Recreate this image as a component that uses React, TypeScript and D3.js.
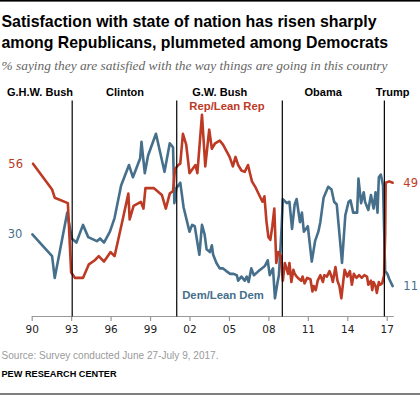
import React, { useEffect, useRef } from 'react';
import * as d3 from 'd3';

// % satisfied, [year, value]
const repSeries: [number, number][] = [
  [1990.1, 56], [1991.55, 46.5], [1991.75, 43.5], [1992.75, 41.5], [1993.0, 16], [1993.3, 14], [1993.9, 14],
  [1994.35, 19], [1994.8, 20.5], [1995.1, 22], [1995.5, 20], [1996.0, 23.5], [1996.3, 22], [1996.9, 35],
  [1997.35, 45], [1997.45, 35.5], [1997.75, 40.5], [1998.3, 42], [1998.5, 39.5], [1998.65, 47], [1999.3, 47],
  [1999.9, 44.5], [2000.2, 39.5], [2000.5, 45], [2000.75, 46], [2000.9, 54], [2001.15, 55.5], [2001.3, 56],
  [2001.5, 67], [2001.75, 63], [2002.0, 52.5], [2002.45, 55.5], [2002.6, 52.5], [2002.95, 74], [2003.2, 55],
  [2003.5, 68.5], [2003.7, 61.5], [2003.95, 63.5], [2004.3, 64.5], [2004.55, 63], [2005.05, 58.5], [2005.3, 55],
  [2005.5, 58.5], [2005.7, 55.5], [2005.95, 53.5], [2006.2, 53], [2006.45, 55.5], [2006.6, 52.5], [2006.75, 49.5],
  [2007.0, 47.5], [2007.3, 44.5], [2007.55, 42], [2007.7, 44], [2007.85, 35], [2008.0, 29], [2008.15, 28],
  [2008.3, 33], [2008.45, 39.5], [2008.6, 19.5], [2008.75, 23.5], [2008.95, 22], [2009.1, 13], [2009.25, 19.5],
  [2009.35, 18], [2009.5, 15.5], [2009.6, 19.5], [2009.75, 12.5], [2009.9, 17], [2010.0, 15.5], [2010.15, 14.5],
  [2010.25, 14], [2010.5, 13], [2010.6, 14.5], [2010.75, 12], [2010.95, 14], [2011.2, 13.5], [2011.35, 9],
  [2011.45, 11], [2011.6, 9.5], [2011.75, 13], [2011.95, 15], [2012.15, 12.5], [2012.25, 15], [2012.45, 14.5],
  [2012.65, 16.5], [2012.8, 14.5], [2012.9, 12.5], [2013.1, 18], [2013.25, 13], [2013.4, 11], [2013.55, 6.5],
  [2013.7, 13], [2013.8, 17], [2014.0, 14.5], [2014.2, 16.5], [2014.35, 11.5], [2014.5, 15.5], [2014.7, 14],
  [2014.9, 15], [2015.1, 14], [2015.3, 15], [2015.5, 14.5], [2015.6, 11.5], [2015.8, 13], [2015.9, 9.5],
  [2016.0, 12.5], [2016.15, 11], [2016.25, 8.5], [2016.4, 12.5], [2016.5, 11.5], [2016.65, 12], [2016.8, 15],
  [2016.88, 30], [2016.92, 49], [2017.2, 49.5], [2017.45, 49],
];

const demSeries: [number, number][] = [
  [1990.05, 30], [1991.55, 22], [1991.75, 14], [1992.7, 38], [1993.05, 28.5], [1993.4, 27], [1993.9, 33.5],
  [1994.3, 29], [1994.95, 27.5], [1995.2, 28.5], [1995.5, 27], [1995.95, 31], [1996.3, 36], [1996.8, 48],
  [1997.4, 55.5], [1997.7, 51], [1998.25, 58], [1998.35, 64], [1998.6, 52.5], [1998.85, 59], [1999.45, 67],
  [2000.1, 53], [2000.5, 63.5], [2000.75, 62], [2000.85, 41.5], [2001.0, 47], [2001.3, 49], [2001.55, 40],
  [2002.0, 31], [2002.2, 33.5], [2002.4, 33], [2002.75, 22.5], [2002.95, 33.5], [2003.15, 30], [2003.3, 24.5],
  [2003.55, 23.5], [2003.7, 26], [2003.8, 22.5], [2004.05, 19.5], [2004.3, 17.5], [2004.55, 17.5], [2004.8, 16.5],
  [2005.1, 15.5], [2005.35, 15.5], [2005.6, 15], [2005.7, 13], [2005.95, 14.5], [2006.2, 13], [2006.35, 14.5],
  [2006.5, 12.5], [2006.7, 17.5], [2006.9, 15], [2007.25, 16.5], [2007.5, 17.5], [2007.75, 18.5], [2007.95, 20.5],
  [2008.1, 15], [2008.35, 17.5], [2008.5, 6.5], [2008.7, 12.5], [2008.8, 15], [2009.0, 32], [2009.1, 43],
  [2009.4, 41.5], [2009.6, 42], [2009.8, 32], [2010.0, 41], [2010.15, 43], [2010.4, 34.5], [2010.55, 38],
  [2010.7, 31], [2011.0, 33], [2011.3, 20], [2011.55, 27.5], [2011.8, 31], [2011.95, 34.5], [2012.2, 43.5],
  [2012.55, 47.5], [2012.8, 46.5], [2013.0, 42], [2013.2, 41], [2013.35, 33], [2013.6, 19.5], [2013.85, 37],
  [2014.1, 42], [2014.25, 42.5], [2014.45, 38], [2014.75, 38], [2014.85, 50.5], [2015.05, 41.5], [2015.25, 45.5],
  [2015.35, 42], [2015.6, 39], [2015.8, 44.5], [2016.0, 39.5], [2016.15, 45.5], [2016.3, 38], [2016.4, 51],
  [2016.55, 52], [2016.72, 48], [2016.88, 16.5], [2017.05, 15.5], [2017.2, 13.5], [2017.45, 11],
];

const presidents = ['G.H.W. Bush', 'Clinton', 'G.W. Bush', 'Obama', 'Trump'];
const presidentLabelYears = [1990.63, 1997.1, 2004.3, 2012.17, 2017.45];
const termStarts = [1993.08, 2001.03, 2009.06, 2016.82];
const tickYears = [1990, 1993, 1996, 1999, 2002, 2005, 2008, 2011, 2014, 2017];

const RED = '#bd3a25';
const BLUE = '#456f8b';
const SANS = '"Liberation Sans", Arial, sans-serif';
const DJV = '"DejaVu Sans", Verdana, sans-serif';

const App = () => {
  const svgRef = useRef<SVGSVGElement>(null);

  useEffect(() => {
    const svg = d3.select(svgRef.current);
    svg.selectAll('*').remove();

    const x = d3.scaleLinear().domain([1990, 2017.5]).range([31.7, 393.3]);
    const y = d3.scaleLinear().domain([0, 80]).range([316, 98.4]);

    // rules top and bottom
    svg.append('rect').attr('x', 0).attr('y', 0).attr('width', 420).attr('height', 1.6).attr('fill', '#000');
    svg.append('rect').attr('x', 0).attr('y', 393.5).attr('width', 420).attr('height', 1).attr('fill', '#000');

    // title
    const title = ['Satisfaction with state of nation has risen sharply', 'among Republicans, plummeted among Democrats'];
    const titleLen = [375, 386.5];
    svg.selectAll('.title')
      .data(title)
      .enter()
      .append('text')
      .attr('class', 'title')
      .attr('x', 1.5)
      .attr('y', (d, i) => 27 + i * 20.7)
      .attr('textLength', (d, i) => titleLen[i])
      .attr('lengthAdjust', 'spacingAndGlyphs')
      .style('font-family', SANS)
      .style('font-weight', 'bold')
      .style('font-size', '17px')
      .style('fill', '#000')
      .text(d => d);

    svg.append('text')
      .attr('x', 1.5)
      .attr('y', 70)
      .attr('textLength', 386)
      .attr('lengthAdjust', 'spacingAndGlyphs')
      .style('font-family', '"Liberation Serif", Georgia, serif')
      .style('font-style', 'italic')
      .style('font-size', '13px')
      .style('fill', '#666')
      .text('% saying they are satisfied with the way things are going in this country');

    // axis
    const axis = svg.append('g')
      .attr('transform', 'translate(0,316)')
      .call(
        d3.axisBottom(x)
          .tickValues(tickYears)
          .tickFormat(d => String(Number(d) % 100).padStart(2, '0'))
          .tickSize(5)
          .tickSizeOuter(0)
          .tickPadding(5)
      );
    axis.select('.domain').attr('stroke', '#999').attr('stroke-width', 1.2);
    axis.selectAll('.tick line').attr('stroke', '#999').attr('stroke-width', 1.2);
    axis.selectAll('.tick text')
      .style('font-family', DJV)
      .style('font-size', '10.5px')
      .style('fill', '#222');

    // series lines
    const line = d3.line<[number, number]>()
      .x(d => x(d[0]))
      .y(d => y(d[1]))
      .curve(d3.curveLinear);

    [[demSeries, BLUE], [repSeries, RED]].forEach(([s, c]) => {
      svg.append('path')
        .datum(s as [number, number][])
        .attr('d', line)
        .attr('fill', 'none')
        .attr('stroke', c as string)
        .attr('stroke-width', 2.6)
        .attr('stroke-linejoin', 'round')
        .attr('stroke-linecap', 'round');
    });

    // presidential term dividers
    svg.selectAll('.term')
      .data(termStarts)
      .enter()
      .append('line')
      .attr('class', 'term')
      .attr('x1', d => x(d))
      .attr('x2', d => x(d))
      .attr('y1', 100.5)
      .attr('y2', 316.5)
      .attr('stroke', '#000')
      .attr('stroke-width', 1.2);

    svg.selectAll('.pres')
      .data(presidents)
      .enter()
      .append('text')
      .attr('class', 'pres')
      .attr('x', (d, i) => x(presidentLabelYears[i]))
      .attr('y', 96)
      .attr('text-anchor', 'middle')
      .style('font-family', SANS)
      .style('font-weight', 'bold')
      .style('font-size', '11px')
      .style('fill', '#000')
      .text(d => d);

    // series labels
    svg.append('text')
      .attr('x', 227)
      .attr('y', 109.5)
      .attr('text-anchor', 'middle')
      .style('font-family', SANS)
      .style('font-weight', 'bold')
      .style('font-size', '11.3px')
      .style('fill', RED)
      .text('Rep/Lean Rep');

    svg.append('text')
      .attr('x', 223)
      .attr('y', 298.5)
      .attr('text-anchor', 'middle')
      .style('font-family', SANS)
      .style('font-weight', 'bold')
      .style('font-size', '11.3px')
      .style('fill', BLUE)
      .text('Dem/Lean Dem');

    // start / end values
    const first = (s: [number, number][]) => s[0];
    const last = (s: [number, number][]) => s[s.length - 1];
    const endLabels = [
      { p: first(repSeries), c: RED, side: 'start' },
      { p: first(demSeries), c: BLUE, side: 'start' },
      { p: last(repSeries), c: RED, side: 'end' },
      { p: last(demSeries), c: BLUE, side: 'end' },
    ];
    svg.selectAll('.endlab')
      .data(endLabels)
      .enter()
      .append('text')
      .attr('class', 'endlab')
      .attr('x', d => (d.side === 'start' ? x(d.p[0]) - 10 : x(d.p[0]) + 18))
      .attr('y', d => y(d.p[1]) + 4)
      .attr('text-anchor', d => (d.side === 'start' ? 'end' : 'middle'))
      .style('font-family', DJV)
      .style('font-size', '11.5px')
      .style('fill', d => d.c)
      .text(d => Math.round(d.p[1]));

    // footer
    svg.append('text')
      .attr('x', 1.5)
      .attr('y', 359.3)
      .attr('textLength', 217)
      .attr('lengthAdjust', 'spacingAndGlyphs')
      .style('font-family', SANS)
      .style('font-size', '10.5px')
      .style('fill', '#9a9a9a')
      .text('Source: Survey conducted June 27-July 9, 2017.');

    svg.append('text')
      .attr('x', 1.5)
      .attr('y', 377.3)
      .attr('textLength', 115)
      .attr('lengthAdjust', 'spacingAndGlyphs')
      .style('font-family', SANS)
      .style('font-weight', 'bold')
      .style('font-size', '9.5px')
      .style('fill', '#000')
      .text('PEW RESEARCH CENTER');

    return () => {
      svg.selectAll('*').remove();
    };
  }, []);

  return (
    <svg
      ref={svgRef}
      width={420}
      height={397}
      style={{ position: 'absolute', left: 0, top: 0, background: '#fff' }}
    />
  );
};

export default App;
